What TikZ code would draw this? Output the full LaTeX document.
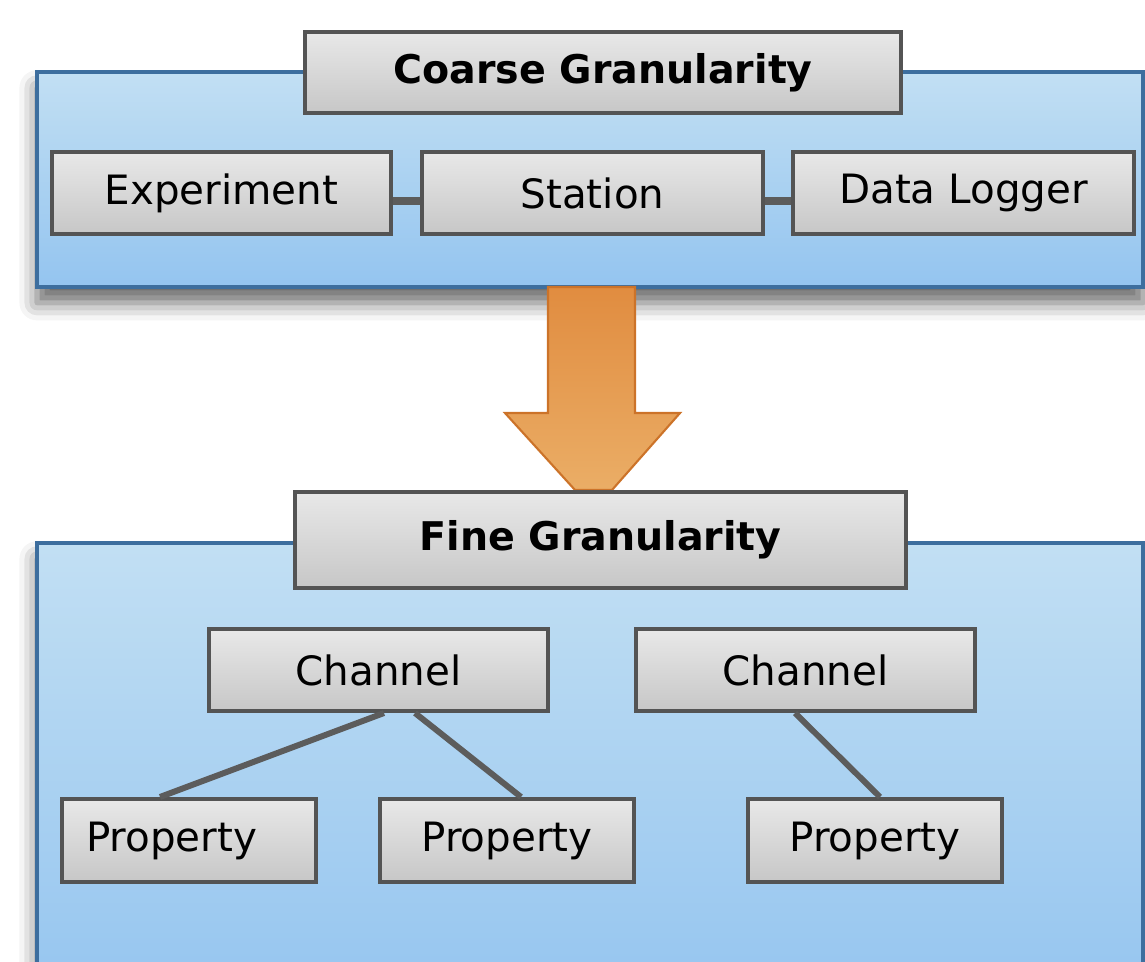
\documentclass[tikz,border=0pt]{standalone}
\usepackage{fontspec}
\setmainfont{DejaVu Sans}
\usepackage{xcolor}
\usetikzlibrary{shadows.blur}

\begin{document}
\begin{tikzpicture}[x = 0.02cm,
                    y = -0.02cm]

  % BOUNDING BOX
  \useasboundingbox (0,0) rectangle (1145,962);
  \clip (0,0) rectangle (1145,962);


  % COLORS
  \definecolor{panelborder}{rgb}{ 0.24,0.43,0.62 }
  \definecolor{paneltop}{rgb}{ 0.76,0.875,0.953 }
  \definecolor{panelbottom}{rgb}{ 0.58,0.77,0.94 }
  \definecolor{boxborder}{rgb}{ 0.33,0.33,0.33 }
  \definecolor{boxtop}{rgb}{ 0.91,0.91,0.91 }
  \definecolor{boxbottom}{rgb}{ 0.78,0.78,0.78 }
  \definecolor{arrowtop}{rgb}{ 0.88,0.55,0.25 }
  \definecolor{arrowbottom}{rgb}{ 0.92,0.68,0.40 }
  \definecolor{arrowborder}{rgb}{ 0.80,0.45,0.16 }
  \definecolor{linkcolor}{rgb}{ 0.36,0.36,0.36 }


  % STYLES
  \tikzstyle{panelstyle} = [top color=paneltop, bottom color=panelbottom, draw=panelborder, line width=2.2pt, blur shadow={shadow xshift=0pt, shadow yshift=-9pt, shadow blur radius=10pt, shadow opacity=60}]
  \tikzstyle{itembox} = [rectangle, top color=boxtop, bottom color=boxbottom, draw=boxborder, line width=2.3pt, inner sep=0pt, minimum height=1.64cm, font=\fontsize{23}{28}\selectfont]
  \tikzstyle{titlebox} = [itembox, font=\fontsize{22.5}{27}\selectfont\bfseries]
  \tikzstyle{linkstyle} = [draw=linkcolor, line width=3.4pt]


  % PANELS
  \path[panelstyle] (37,72) rectangle (1143,287);
  \path[panelstyle] (37,543) rectangle (1143,1010);


  % ARROW
  \draw[top color=arrowtop, bottom color=arrowbottom, draw=arrowborder, line width=1.2pt, line join=miter]
    (548,287) -- (635,287) -- (635,413) -- (680,413) -- (612,490) -- (575,490) -- (505,413) -- (548,413) -- cycle;


  % COARSE NODES
  \node[titlebox, minimum width=11.92cm, minimum height=1.62cm] (coarse) at (603,72.5) {Coarse Granularity};
  \node[itembox, minimum width=6.78cm] (exp) at (221.5,193) {\raisebox{3pt}{Experiment}};
  \node[itembox, minimum width=6.82cm] (sta) at (592.5,193) {Station};
  \node[itembox, minimum width=6.82cm] (dlog) at (963.5,193) {Data Logger};

  \draw[linkstyle, line width=4.4pt] ([yshift=-0.16cm]exp.east) -- ([yshift=-0.16cm]sta.west);
  \draw[linkstyle, line width=4.4pt] ([yshift=-0.16cm]sta.east) -- ([yshift=-0.16cm]dlog.west);


  % FINE NODES
  \node[titlebox, minimum width=12.22cm, minimum height=1.92cm] (fine) at (600.5,540) {Fine Granularity};
  \node[itembox, minimum width=6.78cm] (chan_a) at (378.5,670) {Channel};
  \node[itembox, minimum width=6.78cm] (chan_b) at (805.5,670) {Channel};
  \node[itembox, minimum width=5.08cm, minimum height=1.66cm] (prop_a) at (189,840.5) {Property\hspace*{0.7cm}};
  \node[itembox, minimum width=5.08cm, minimum height=1.66cm] (prop_b) at (507,840.5) {Property};
  \node[itembox, minimum width=5.08cm, minimum height=1.66cm] (prop_c) at (875,840.5) {Property};

  \draw[linkstyle] ([xshift=0.11cm]chan_a.south) -- ([xshift=-0.58cm]prop_a.north);
  \draw[linkstyle] ([xshift=0.73cm]chan_a.south) -- ([xshift=0.28cm]prop_b.north);
  \draw[linkstyle] ([xshift=-0.21cm]chan_b.south) -- ([xshift=0.10cm]prop_c.north);

\end{tikzpicture}
\end{document}
